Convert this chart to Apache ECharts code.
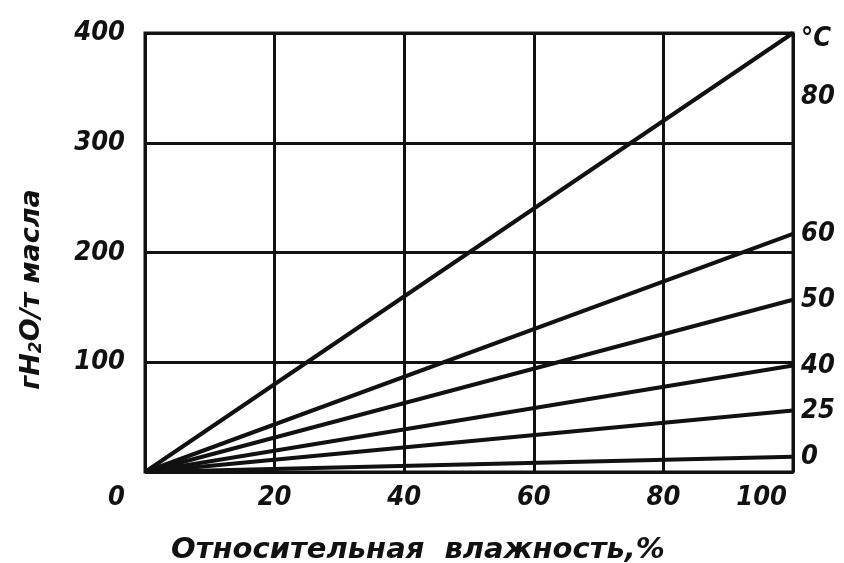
<!DOCTYPE html>
<html>
<head>
<meta charset="utf-8">
<style>
  html, body { margin: 0; padding: 0; background: #fff; }
  #chart { width: 844px; height: 563px; }
</style>
<script src="https://cdn.jsdelivr.net/npm/echarts@6/dist/echarts.min.js"></script>
</head>
<body>
<div id="chart"></div>
<script>
// Water solubility in oil vs relative humidity, one straight line per temperature
const temperatures = ['80', '60', '50', '40', '25', '0'];
// g H2O per tonne of oil at 100 % relative humidity
const valuesAt100 = [400, 217, 157, 97, 56, 14];
const humidity = [0, 100];
const xTicks = [0, 20, 40, 60, 80, 100];
const yTicks = [0, 100, 200, 300, 400];

const FONT = '"DejaVu Sans Condensed", "DejaVu Sans", sans-serif';
const NAME_FONT = '"DejaVu Sans", sans-serif';
const INK = '#111';

const labelStyle = {
  fontFamily: FONT, fontStyle: 'italic', fontWeight: 'bold',
  fontSize: 27, color: INK
};
const nameStyle = {
  fontFamily: NAME_FONT, fontStyle: 'italic', fontWeight: 'bold',
  fontSize: 27, color: INK
};

// right-hand temperature scale: unit sign at the top, 80 beside the steep line,
// the others at the end of their own line
const rightLabelValues = [395, 342].concat(valuesAt100.slice(1));
const rightLabelTexts = ['°C'].concat(temperatures);

const series = temperatures.map((t, i) => ({
  name: t + ' °C',
  type: 'line',
  data: humidity.map((h, k) => [h, k === 0 ? 0 : valuesAt100[i]]),
  symbol: 'none',
  lineStyle: { color: INK, width: 4 },
  silent: true,
  z: 3
}));

const chart = echarts.init(document.getElementById('chart'));
chart.setOption({
  backgroundColor: '#fff',
  animation: false,
  grid: {
    left: 145, top: 33, right: 51, bottom: 91,
    outerBoundsMode: 'none',
    show: true, borderColor: INK, borderWidth: 3
  },
  xAxis: {
    type: 'value', min: xTicks[0], max: xTicks[xTicks.length - 1], interval: 20,
    axisLine: { show: false }, axisTick: { show: false },
    splitLine: { show: true, lineStyle: { color: INK, width: 3 } },
    axisLabel: Object.assign({}, labelStyle, {
      margin: 12,
      alignMaxLabel: 'right',
      alignMinLabel: 'right',
      formatter: v => v === 0 ? '{o|0}' : (v === 100 ? '{m|100}' : String(v)),
      rich: {
        o: Object.assign({}, labelStyle, { padding: [0, 20, 0, 0] }),
        m: Object.assign({}, labelStyle, { padding: [0, 6, 0, 0] })
      }
    }),
    name: 'Относительная  влажность,%',
    nameLocation: 'middle', nameGap: 64,
    nameTextStyle: Object.assign({}, nameStyle, { fontSize: 29, padding: [0, 102, 0, 0] })
  },
  yAxis: [{
    type: 'value', min: yTicks[0], max: yTicks[yTicks.length - 1], interval: 100,
    axisLine: { show: false }, axisTick: { show: false },
    splitLine: { show: true, lineStyle: { color: INK, width: 3 } },
    axisLabel: Object.assign({}, labelStyle, { margin: 20, showMinLabel: false }),
    name: '{a|гH}{s|2}{a|O/т масла}',
    nameLocation: 'middle', nameGap: 100, nameRotate: 90,
    nameTextStyle: {
      padding: [0, 74, 0, 0],
      rich: {
        a: Object.assign({}, nameStyle),
        s: Object.assign({}, nameStyle, { fontSize: 17, padding: [10, 0, 0, 0] })
      }
    }
  }, {
    type: 'value', min: 0, max: 400, position: 'right',
    axisLine: { show: false }, axisTick: { show: false }, splitLine: { show: false },
    axisLabel: Object.assign({}, labelStyle, {
      margin: 8,
      customValues: rightLabelValues,
      formatter: v => rightLabelTexts[rightLabelValues.indexOf(v)]
    })
  }],
  series: series
});
</script>
</body>
</html>
